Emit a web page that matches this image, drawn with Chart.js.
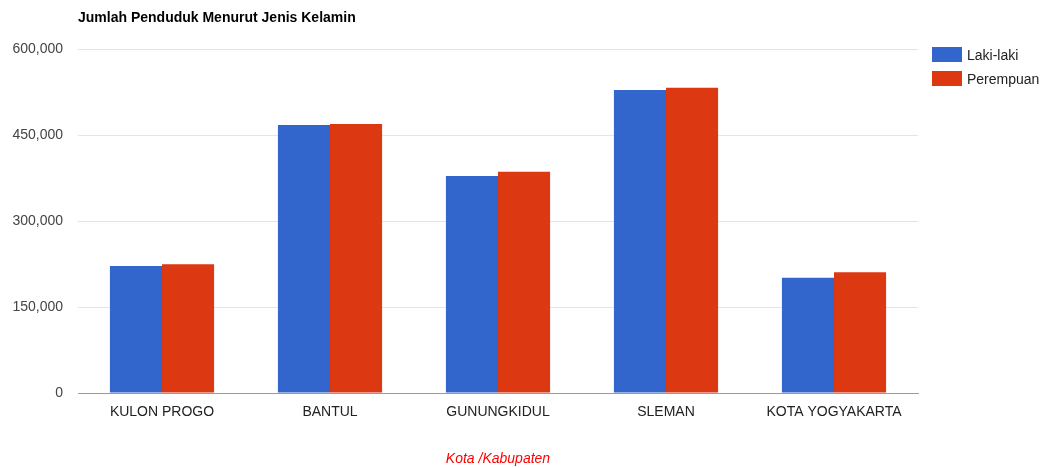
<!DOCTYPE html>
<html lang="id">
<head>
<meta charset="UTF-8">
<script src="https://cdn.jsdelivr.net/npm/chart.js"></script>
<title>Jumlah Penduduk Menurut Jenis Kelamin</title>
<style>
  body { margin: 0; background: #fff; font-family: Arial, "Liberation Sans", sans-serif; }
  #wrap { position: relative; width: 1043px; height: 468px; }
  #judul { position: absolute; left: 78px; top: 9px; font-size: 14px; font-weight: bold; color: #000; }
  #legend { position: absolute; left: 932px; top: 47px; font-size: 14px; color: #222; }
  .item { height: 15px; margin-bottom: 9px; display: flex; align-items: center; }
  .kotak { width: 30px; height: 15px; margin-right: 5px; }
</style>
</head>
<body>
<div id="wrap">
  <canvas id="grafik" width="1043" height="468"></canvas>
  <div id="judul">Jumlah Penduduk Menurut Jenis Kelamin</div>
  <div id="legend"></div>
</div>
<script>
const wilayah = ['KULON PROGO', 'BANTUL', 'GUNUNGKIDUL', 'SLEMAN', 'KOTA YOGYAKARTA'];
const lakiLaki = [221500, 467400, 378500, 528500, 201100];
const perempuan = [224500, 469200, 386000, 532500, 210500];
const tickY = [0, 150000, 300000, 450000, 600000];

const seri = [
  { label: 'Laki-laki', data: lakiLaki, warna: '#3366cc' },
  { label: 'Perempuan', data: perempuan, warna: '#dc3912' }
];

// legend di kanan
document.getElementById('legend').innerHTML = seri.map(s =>
  '<div class="item"><span class="kotak" style="background:' + s.warna + '"></span>' + s.label + '</div>'
).join('');

Chart.defaults.font.family = 'Arial, "Liberation Sans", sans-serif';

new Chart(document.getElementById('grafik'), {
  type: 'bar',
  data: {
    labels: wilayah,
    datasets: seri.map(s => ({
      label: s.label,
      data: s.data,
      backgroundColor: s.warna,
      borderWidth: 0,
      barPercentage: 1,
      categoryPercentage: 0.62
    }))
  },
  options: {
    responsive: false,
    animation: false,
    layout: { padding: { top: 49, right: 125, left: 0, bottom: 0 } },
    plugins: { legend: { display: false }, tooltip: { enabled: false } },
    scales: {
      x: {
        afterFit: s => { s.height = 75; },
        grid: { display: false, drawTicks: false },
        border: { color: '#9a9a9a', width: 1 },
        ticks: { color: '#222', font: { size: 14 }, padding: 11, maxRotation: 0 },
        title: {
          display: true,
          text: 'Kota /Kabupaten',
          color: '#ff0000',
          font: { size: 14, style: 'italic' },
          padding: { top: 0, bottom: 0 }
        }
      },
      y: {
        min: 0,
        max: 600000,
        afterFit: s => { s.width = 78; },
        afterBuildTicks: s => { s.ticks = tickY.map(v => ({ value: v })); },
        grid: {
          drawTicks: false,
          color: c => c.tick && c.tick.value === 0 ? '#9a9a9a' : '#e4e4e4'
        },
        border: { display: false },
        ticks: {
          color: '#444',
          font: { size: 14 },
          padding: 15,
          callback: v => v.toLocaleString('en-US')
        }
      }
    }
  }
});
</script>
</body>
</html>
